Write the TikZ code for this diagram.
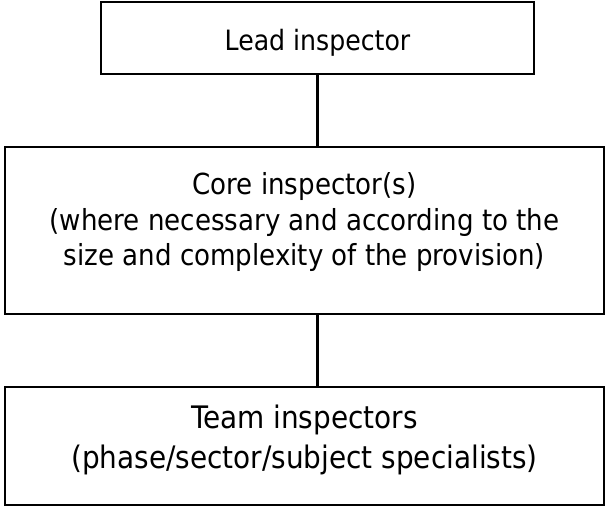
\documentclass[tikz,border=0pt]{standalone}
\usepackage{fontspec}
\setmainfont{DejaVu Sans Condensed}
\begin{document}
\begin{tikzpicture}[x=1pt,y=1pt,
  box/.style={draw=black, line width=1.8pt, inner sep=0pt},
  lbl/.style={align=center, inner sep=0pt, anchor=base},
  leadfont/.style={font=\fontsize{28pt}{34.5pt}\selectfont},
  smalltxt/.style={font=\fontsize{29pt}{35.5pt}\selectfont},
  bigtxt/.style={font=\fontsize{31pt}{40pt}\selectfont},
  link/.style={draw=black, line width=2.2pt}]
\useasboundingbox (0,0) rectangle (605,506);
% boxes
\node[box, minimum width=433pt, minimum height=72pt] (lead) at (317.5,468) {};
\node[box, minimum width=599pt, minimum height=167pt] (core) at (304.5,275.5) {};
\node[box, minimum width=599pt, minimum height=118pt] (team) at (304.5,60) {};
% texts
\node[lbl, leadfont] (leadtxt) at (317.5,455) {Lead inspector};
\node[lbl, smalltxt] (coretxt) at (304.5,240) {Core inspector(s)\\(where necessary and according to the\\size and complexity of the provision)};
\node[lbl, bigtxt] (teamtxt) at (304.5,37) {Team inspectors\\(phase/sector/subject specialists)};
% connectors
\draw[link] (lead.south) -- (lead.south |- core.north);
\draw[link] (lead.south |- core.south) -- (lead.south |- team.north);
\end{tikzpicture}
\end{document}
